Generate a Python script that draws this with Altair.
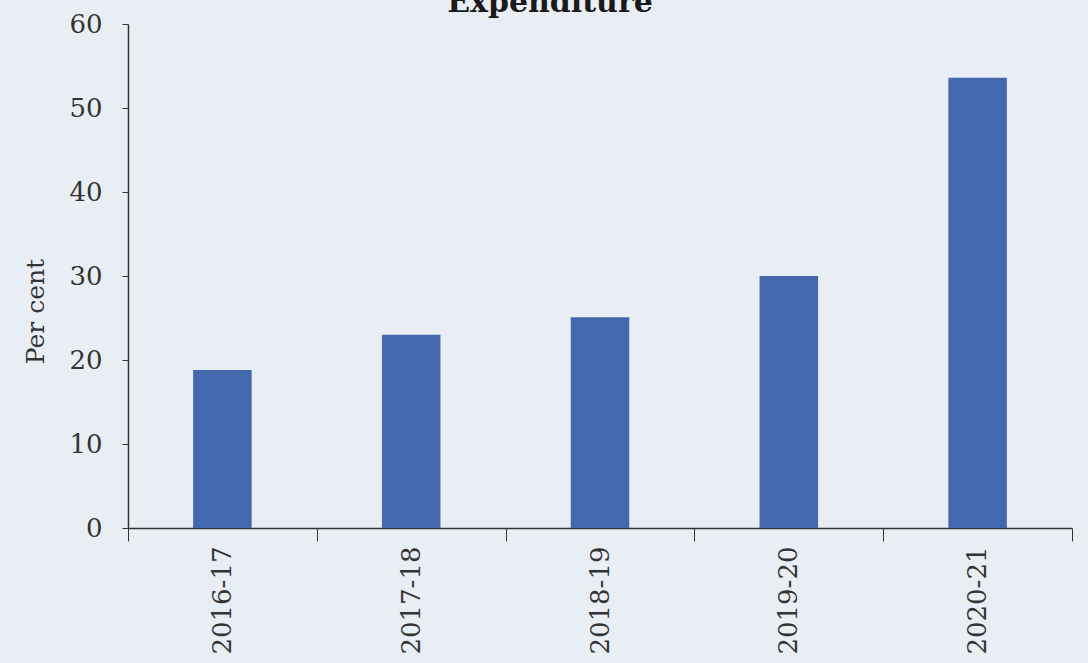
import altair as alt
import pandas as pd

years = ["2016-17", "2017-18", "2018-19", "2019-20", "2020-21"]
values = [18.8, 23.0, 25.1, 30.0, 53.6]

df = pd.DataFrame({"year": years, "value": values})

FONT = "DejaVu Serif"

chart = (
    alt.Chart(df)
    .mark_bar(color="#4468b0", width=alt.RelativeBandSize(0.31))
    .encode(
        x=alt.X(
            "year:N",
            sort=years,
            scale=alt.Scale(paddingInner=0, paddingOuter=0),
            axis=alt.Axis(
                title=None,
                labelAngle=-90,
                labelFontSize=26,
                labelFont=FONT,
                labelColor="#333333",
                labelPadding=5,
                tickBand="extent",
                tickSize=13,
                tickColor="#333333",
                domainColor="#333333",
                domainWidth=1.5,
                grid=False,
            ),
        ),
        y=alt.Y(
            "value:Q",
            scale=alt.Scale(domain=[0, 60]),
            axis=alt.Axis(
                title="Per cent",
                values=[0, 10, 20, 30, 40, 50, 60],
                titleFont=FONT,
                titleFontSize=25,
                titleFontWeight="normal",
                titleColor="#333333",
                titleX=-93,
                titleY=287,
                titleAngle=270,
                titleAlign="center",
                titleBaseline="middle",
                labelFontSize=26,
                labelFont=FONT,
                labelColor="#333333",
                labelPadding=20,
                tickSize=6,
                tickColor="#333333",
                domainColor="#333333",
                domainWidth=1.5,
                grid=False,
            ),
        ),
    )
    .properties(
        width=944,
        height=504,
        background="#e9edf4",
        padding={"left": 128, "top": 24, "right": 16, "bottom": 135},
        autosize=alt.AutoSizeParams(type="none"),
        title=alt.TitleParams(
            text="Expenditure",
            font=FONT,
            fontSize=30,
            fontWeight="bold",
            color="#1a1a1a",
            anchor="middle",
            frame="group",
            dx=-50,
            offset=-31,
            baseline="alphabetic",
        ),
    )
    .configure_view(stroke=None)
)

chart.save("out.html", embed_options={"renderer": "svg", "actions": False})
